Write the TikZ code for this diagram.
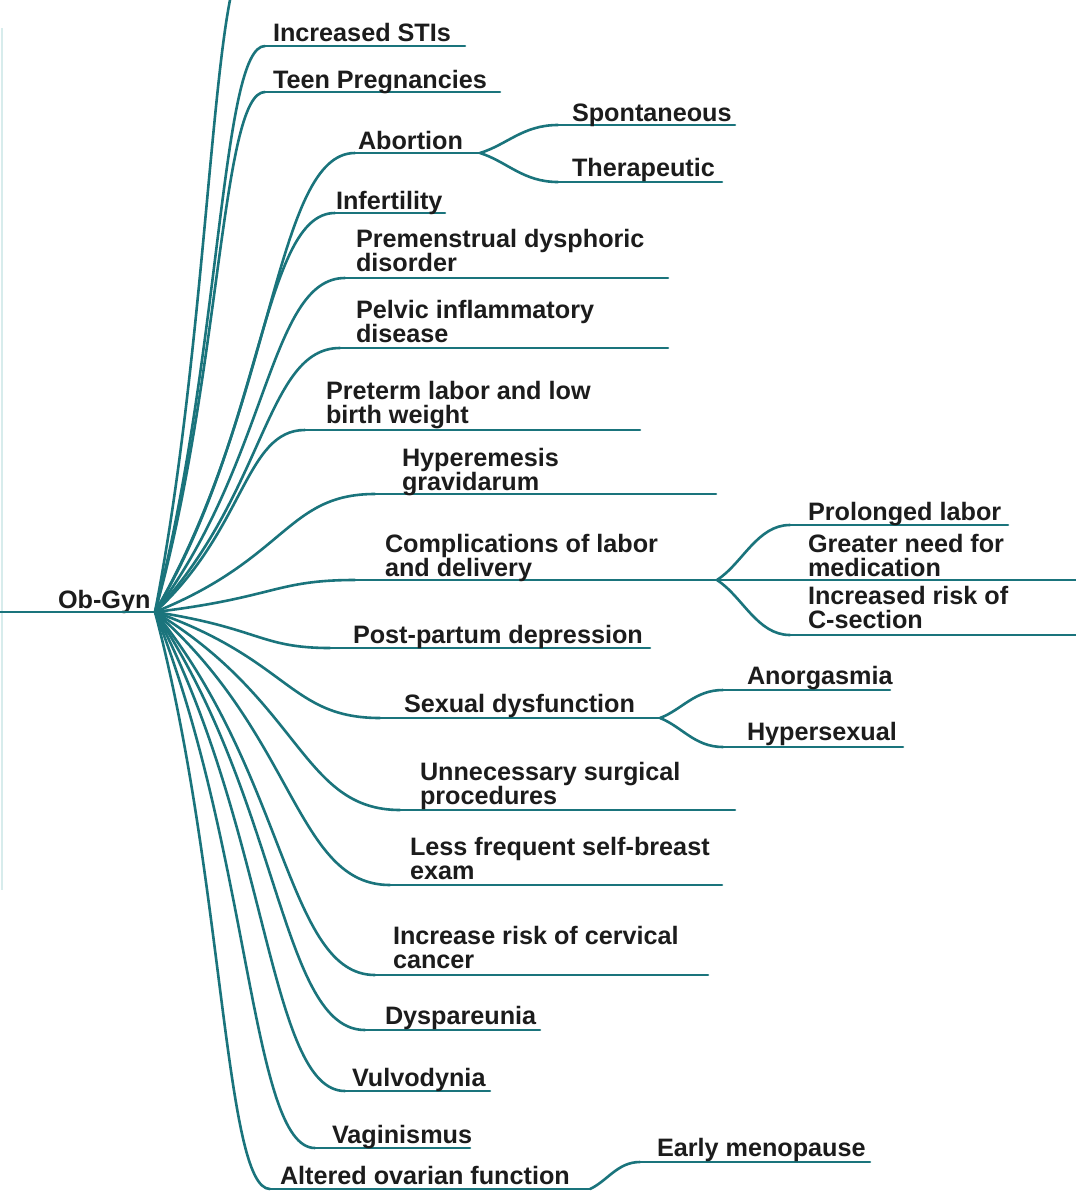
\documentclass[tikz,border=0pt]{standalone}
\usepackage{fontspec}
\setmainfont{Liberation Sans}
\usetikzlibrary{calc}
\definecolor{tealline}{RGB}{26,116,124}
\definecolor{ink}{RGB}{28,28,28}
\definecolor{faintline}{RGB}{215,236,236}
\tikzset{
  lbl/.style={anchor=base west, inner sep=0pt, outer sep=0pt, text=ink,
    font=\bfseries\fontsize{25.2}{24}\selectfont},
  conn/.style={draw=tealline, line width=2.6pt, line cap=round},
  faint/.style={draw=faintline, line width=1.5pt},
}
\newcommand\twol[2]{\vtop{\lineskiplimit=-100pt\hbox{#1}\hbox{#2}}}
% curved connector from the root to the start of an underline
\newcommand\mmbranch[2]{%
  \draw[conn] let \p1=(#1), \p2=(#2) in (#1) .. controls
    ({\x1+0.6*(\x2-\x1)},{\y1+0.45*(\y2-\y1)}) and
    ({\x2-0.4*(\x2-\x1)},{\y2}) .. (#2);}
% curved connector of a fork (sub-topic)
\newcommand\mmfork[2]{%
  \draw[conn] let \p1=(#1), \p2=(#2) in (#1) .. controls
    ({\x1+0.35*(\x2-\x1)},{\y1+0.3*(\y2-\y1)}) and
    ({\x2-0.45*(\x2-\x1)},{\y2}) .. (#2);}
% #1 name, #2 parent, #3 x start, #4 x end, #5 y of underline
\newcommand\mmleaf[5]{%
  \coordinate (#1s) at (#3,#5);
  \coordinate (#1e) at (#4,#5);
  \mmbranch{#2}{#1s}
  \draw[conn] (#1s) -- (#1e);}
\newcommand\mmsub[5]{%
  \coordinate (#1s) at (#3,#5);
  \coordinate (#1e) at (#4,#5);
  \mmfork{#2}{#1s}
  \draw[conn] (#1s) -- (#1e);}
\begin{document}
\begin{tikzpicture}[x=1pt,y=-1pt]
\useasboundingbox (0,0) rectangle (1076,1192);
\clip (0,0) rectangle (1076,1192);
\fill[white] (0,0) rectangle (1076,1192);

% faint edge line
\coordinate (edgeA) at (2,28);
\coordinate (edgeB) at (2,890);
\draw[faint] (edgeA) -- (edgeB);

% root
\coordinate (lft) at (0,612);
\coordinate (root) at (155,612);
\node[lbl] (obgyn) at (58,608) {Ob-Gyn};
\draw[conn] (lft) -- (root);

% branch leaving the top edge
\coordinate (topx) at (250,-45);
\mmbranch{root}{topx}

% leaves
\mmleaf{stis}{root}{265}{465}{46}
\node[lbl] (tstis) at (273,41) {Increased STIs};

\mmleaf{teen}{root}{265}{500}{92}
\node[lbl] (tteen) at (273,88) {Teen Pregnancies};

\mmleaf{abort}{root}{355}{480}{153}
\node[lbl] (tabort) at (358,149) {Abortion};
\mmsub{spont}{aborte}{558}{735}{125}
\node[lbl] (tspont) at (572,121) {Spontaneous};
\mmsub{thera}{aborte}{558}{722}{182}
\node[lbl] (tthera) at (572,176) {Therapeutic};

\mmleaf{infert}{root}{335}{445}{213}
\node[lbl] (tinfert) at (336,209) {Infertility};

\mmleaf{pmdd}{root}{345}{668}{278}
\node[lbl] (tpmdd) at (356,247) {\twol{Premenstrual dysphoric}{disorder}};

\mmleaf{pid}{root}{340}{668}{348}
\node[lbl] (tpid) at (356,318) {\twol{Pelvic inflammatory}{disease}};

\mmleaf{pret}{root}{305}{640}{430}
\node[lbl] (tpret) at (326,399) {\twol{Preterm labor and low}{birth weight}};

\mmleaf{hyper}{root}{375}{716}{494}
\node[lbl] (thyper) at (402,466) {\twol{Hyperemesis}{gravidarum}};

\mmleaf{compl}{root}{355}{717}{580}
\node[lbl] (tcompl) at (385,552) {\twol{Complications of labor}{and delivery}};
\mmsub{prol}{comple}{790}{1008}{525}
\node[lbl] (tprol) at (808,520) {Prolonged labor};
\coordinate (greatere) at (1076,580);
\draw[conn] (comple) -- (greatere);
\node[lbl] (tgreater) at (808,552) {\twol{Greater need for}{medication}};
\mmsub{csec}{comple}{790}{1076}{635}
\node[lbl] (tcsec) at (808,604) {\twol{Increased risk of}{C-section}};

\mmleaf{post}{root}{330}{650}{648}
\node[lbl] (tpost) at (353,643) {Post-partum depression};

\mmleaf{sexd}{root}{380}{660}{718}
\node[lbl] (tsexd) at (404,712) {Sexual dysfunction};
\mmsub{anorg}{sexde}{723}{890}{690}
\node[lbl] (tanorg) at (747,684) {Anorgasmia};
\mmsub{hypers}{sexde}{723}{903}{747}
\node[lbl] (thypers) at (747,740) {Hypersexual};

\mmleaf{unnec}{root}{400}{735}{810}
\node[lbl] (tunnec) at (420,780) {\twol{Unnecessary surgical}{procedures}};

\mmleaf{less}{root}{390}{722}{885}
\node[lbl] (tless) at (410,855) {\twol{Less frequent self-breast}{exam}};

\mmleaf{cerv}{root}{375}{708}{975}
\node[lbl] (tcerv) at (393,944) {\twol{Increase risk of cervical}{cancer}};

\mmleaf{dysp}{root}{365}{540}{1030}
\node[lbl] (tdysp) at (385,1024) {Dyspareunia};

\mmleaf{vulv}{root}{345}{490}{1091}
\node[lbl] (tvulv) at (352,1086) {Vulvodynia};

\mmleaf{vagin}{root}{315}{470}{1148}
\node[lbl] (tvagin) at (332,1143) {Vaginismus};

\mmleaf{alter}{root}{270}{590}{1189}
\node[lbl] (talter) at (280,1184) {Altered ovarian function};
\mmsub{early}{altere}{640}{870}{1162}
\node[lbl] (tearly) at (657,1156) {Early menopause};
\end{tikzpicture}
\end{document}
